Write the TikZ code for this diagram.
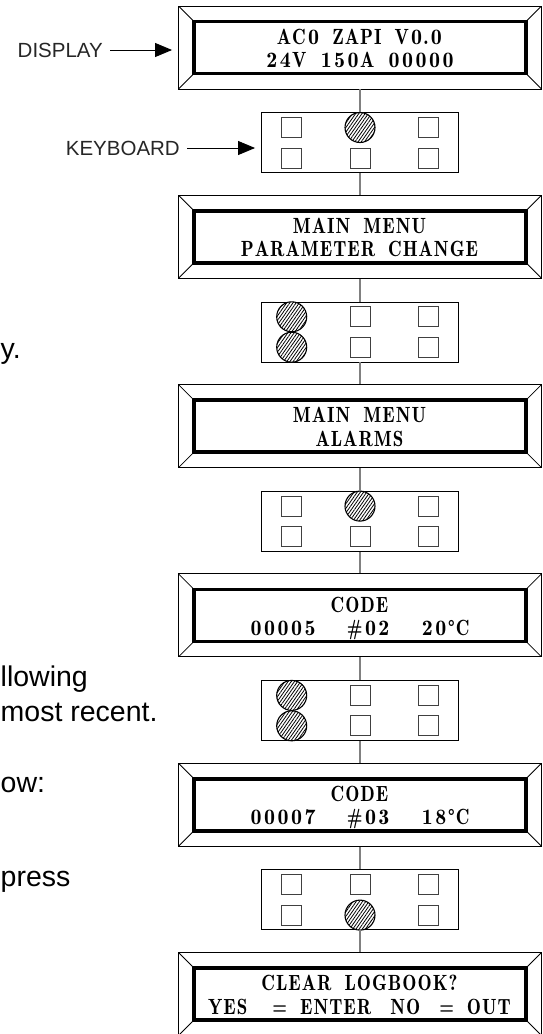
\documentclass[tikz,border=0pt]{standalone}
\usepackage{fontspec}
\usepackage{graphicx}
\newfontfamily\sansfnt{Liberation Sans}
\newfontfamily\lcdfnt{lmromandemi10-regular.otf}
\usetikzlibrary{arrows.meta,patterns.meta}

% LCD-like text: letters slightly condensed, digits in fixed cells, | = blank
\newlength\lcdsp \setlength\lcdsp{6pt}
\def\lcdend{\lcdend}
\newcommand\lcd[1]{\lcdloop#1\lcdend}
\def\lcdloop#1{\ifx#1\lcdend\else\ifx#1|\hspace*{\lcdsp}\else\lcdchar{#1}\fi\expandafter\lcdloop\fi}
\def\lcdchar#1{\ifnum`#1>47 \ifnum`#1<58 \makebox[13.5pt]{#1}\else\lcdlet{#1}\fi\else\lcdlet{#1}\fi}
\def\lcdlet#1{\scalebox{0.86}[1]{#1}\kern1pt}

\newcommand\kbkeys[1]{%
  \foreach \kn/\kx/\ky in {a/-68.3/15.2, b/0/15.2, c/68.3/15.2, d/-68.3/-15.2, e/0/-15.2, f/68.3/-15.2}{
    \node[keysq] (#1\kn) at ([shift={(\kx pt,\ky pt)}]#1.center) {};
  }%
}

\begin{document}
\begin{tikzpicture}[x=1pt,y=-1pt,
  display/.style={draw=black, line width=0.9pt, minimum width=363pt, minimum height=83pt, inner sep=0pt,
    path picture={
      \draw[line width=0.8pt] (path picture bounding box.north west) -- ([shift={(15.5pt,-15.5pt)}]path picture bounding box.north west);
      \draw[line width=0.8pt] (path picture bounding box.north east) -- ([shift={(-15.5pt,-15.5pt)}]path picture bounding box.north east);
      \draw[line width=0.8pt] (path picture bounding box.south west) -- ([shift={(15.5pt,15.5pt)}]path picture bounding box.south west);
      \draw[line width=0.8pt] (path picture bounding box.south east) -- ([shift={(-15.5pt,15.5pt)}]path picture bounding box.south east);
      \draw[line width=3.8pt] ([shift={(15.5pt,-15.5pt)}]path picture bounding box.north west) rectangle ([shift={(-15.5pt,15.5pt)}]path picture bounding box.south east);
    }},
  kbd/.style={draw=black, line width=0.9pt, minimum width=197pt, minimum height=60pt, inner sep=0pt},
  keysq/.style={draw=black!75, line width=0.8pt, minimum size=20pt, inner sep=0pt},
  pressed/.style={circle, draw=black, line width=1.1pt, minimum size=30pt, inner sep=0pt, fill=white,
    postaction={pattern={Lines[angle=55,distance=2.6pt,line width=0.8pt]}, pattern color=black}},
  conn/.style={draw=black!50, line width=1.3pt},
  lcdtext/.style={inner sep=0pt, anchor=base, font=\lcdfnt\fontsize{22}{24}\selectfont},
  lbl/.style={inner sep=0pt, font=\sansfnt\fontsize{20.5}{24}\selectfont, text=black!85, text height=14.7pt, text depth=0pt},
  lblarrow/.style={-{Triangle[length=17pt,width=14pt]}, line width=0.9pt, black},
  frag/.style={inner sep=0pt, anchor=base west, font=\sansfnt\fontsize{28.5}{34}\selectfont, text=black}
]
\useasboundingbox (0,0) rectangle (542,1034);
\clip (0,0) rectangle (542,1034);

% displays
\node[display] (d1) at (360,47.5) {};
\node[lcdtext] (d1a) at ([yshift=3.2pt]d1.center) {\lcd{AC0||ZAPI||V0.0}};
\node[lcdtext] (d1b) at ([yshift=-20pt]d1.center) {\lcd{24V||150A||00000}};

\node[display] (d2) at (360,236.8) {};
\node[lcdtext] (d2a) at ([yshift=3.2pt]d2.center) {\lcd{MAIN||MENU}};
\node[lcdtext] (d2b) at ([yshift=-20pt]d2.center) {\lcd{PARAMETER||CHANGE}};

\node[display] (d3) at (360,426.1) {};
\node[lcdtext] (d3a) at ([yshift=3.2pt]d3.center) {\lcd{MAIN||MENU}};
\node[lcdtext] (d3b) at ([yshift=-20pt]d3.center) {\lcd{ALARMS}};

\node[display] (d4) at (360,615.4) {};
\node[lcdtext] (d4a) at ([yshift=3.2pt]d4.center) {\lcd{CODE}};
\node[lcdtext] (d4b) at ([yshift=-20pt]d4.center) {\lcd{00005|||||\#02|||||20°C}};

\node[display] (d5) at (360,804.7) {};
\node[lcdtext] (d5a) at ([yshift=3.2pt]d5.center) {\lcd{CODE}};
\node[lcdtext] (d5b) at ([yshift=-20pt]d5.center) {\lcd{00007|||||\#03|||||18°C}};

\node[display] (d6) at (360,994) {};
\node[lcdtext] (d6a) at ([yshift=3.2pt]d6.center) {\lcd{CLEAR||LOGBOOK?}};
\node[lcdtext] (d6b) at ([yshift=-20pt]d6.center) {\lcd{YES||||=||ENTER|||NO|||=||OUT}};

% keyboards
\node[kbd] (k1) at (360,142.7) {};
\node[kbd] (k2) at (360,332) {};
\node[kbd] (k3) at (360,521.3) {};
\node[kbd] (k4) at (360,710.6) {};
\node[kbd] (k5) at (360,899.9) {};
\kbkeys{k1}
\kbkeys{k2}
\kbkeys{k3}
\kbkeys{k4}
\kbkeys{k5}
\node[pressed] (p1) at (k1b) {};
\node[pressed] (p2) at (k2a) {};
\node[pressed] (p3) at (k2d) {};
\node[pressed] (p4) at (k3b) {};
\node[pressed] (p5) at (k4a) {};
\node[pressed] (p6) at (k4d) {};
\node[pressed] (p7) at (k5e) {};

% connectors
\draw[conn] (d1) -- (k1);
\draw[conn] (k1) -- (d2);
\draw[conn] (d2) -- (k2);
\draw[conn] (k2) -- (d3);
\draw[conn] (d3) -- (k3);
\draw[conn] (k3) -- (d4);
\draw[conn] (d4) -- (k4);
\draw[conn] (k4) -- (d5);
\draw[conn] (d5) -- (k5);
\draw[conn] (k5) -- (d6);

% labels with arrows
\node[lbl, anchor=east] (ldisp) at (103,50) {DISPLAY};
\node[lbl, anchor=east] (lkbd) at (180,148) {KEYBOARD};
\draw[lblarrow, shorten <=7pt, shorten >=6pt] (ldisp.east) -- (ldisp.east -| d1.west);
\draw[lblarrow, shorten <=7pt, shorten >=6pt] (lkbd.east) -- (lkbd.east -| k1.west);

% fragments of surrounding text
\node[frag] (f1) at (0.5,358) {y.};
\node[frag] (f2) at (0.5,686) {llowing};
\node[frag] (f3) at (0.5,721) {most recent.};
\node[frag] (f4) at (0.5,792) {ow:};
\node[frag] (f5) at (0.5,886) {press};
\end{tikzpicture}
\end{document}
